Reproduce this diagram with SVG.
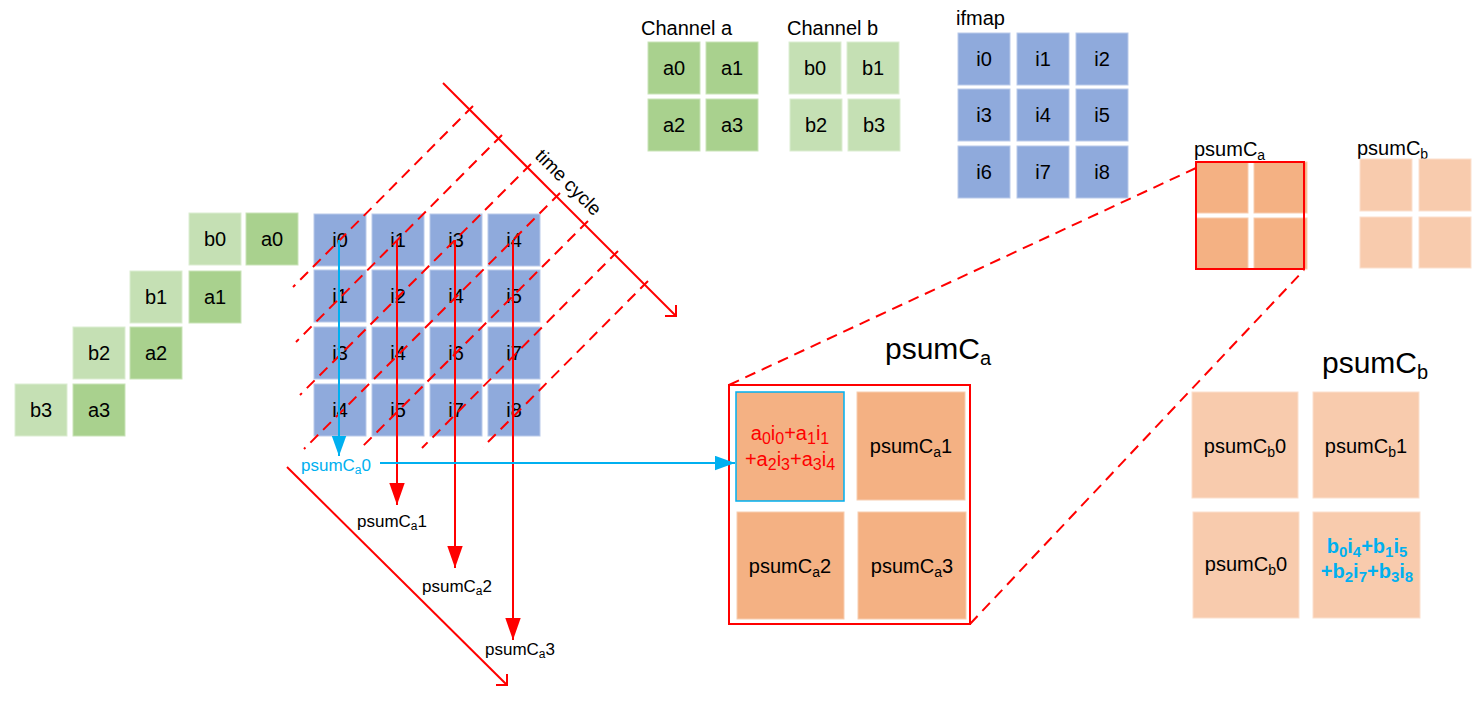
<svg xmlns="http://www.w3.org/2000/svg" width="1481" height="704" viewBox="0 0 1481 704">
<style>
text{font-family:"Liberation Sans",Arial,sans-serif;fill:#000}
.c{text-anchor:middle;font-size:20px}
.ca{fill:#A9D18E;stroke:#C9E3B8;stroke-width:1}
.cb{fill:#C5E0B4;stroke:#DCEDD2;stroke-width:1}
.ci{fill:#8FAADC;stroke:#B9CAEA;stroke-width:1}
.pa{fill:#F4B183;stroke:#F8CDB0;stroke-width:1}
.pb{fill:#F8CBAD;stroke:#FBE0CE;stroke-width:1}
.red{stroke:#FF0000;stroke-width:2;fill:none}
.dash{stroke:#FF0000;stroke-width:2;fill:none;stroke-dasharray:11 7}
.blue{stroke:#00B0F0;stroke-width:2;fill:none}
.lbl{font-size:17px}
</style>
<defs>
<marker id="ra" markerUnits="userSpaceOnUse" markerWidth="22" markerHeight="16" refX="20" refY="7" orient="auto" viewBox="0 0 20 14"><path d="M0,0 L20,7 L0,14 Z" fill="#FF0000"/></marker>
<marker id="ba" markerUnits="userSpaceOnUse" markerWidth="20" markerHeight="15" refX="18" refY="6.5" orient="auto" viewBox="0 0 18 13"><path d="M0,0 L18,6.5 L0,13 Z" fill="#00B0F0"/></marker>
</defs>

<g id="left-weights">
<rect class="cb" x="189" y="213" width="52" height="52"/><text class="c" x="215" y="246">b0</text>
<rect class="ca" x="246" y="213" width="52" height="52"/><text class="c" x="272" y="246">a0</text>
<rect class="cb" x="130" y="271" width="52" height="52"/><text class="c" x="156" y="304">b1</text>
<rect class="ca" x="189" y="271" width="52" height="52"/><text class="c" x="215" y="304">a1</text>
<rect class="cb" x="73" y="327" width="52" height="52"/><text class="c" x="99" y="360">b2</text>
<rect class="ca" x="130" y="327" width="52" height="52"/><text class="c" x="156" y="360">a2</text>
<rect class="cb" x="15" y="384" width="52" height="52"/><text class="c" x="41" y="417">b3</text>
<rect class="ca" x="73" y="384" width="52" height="52"/><text class="c" x="99" y="417">a3</text>
</g>

<g id="input-grid">
<rect class="ci" x="314" y="214" width="52" height="52"/><text class="c" x="340" y="247">i0</text>
<rect class="ci" x="372" y="214" width="52" height="52"/><text class="c" x="398" y="247">i1</text>
<rect class="ci" x="430" y="214" width="52" height="52"/><text class="c" x="456" y="247">i3</text>
<rect class="ci" x="488" y="214" width="52" height="52"/><text class="c" x="514" y="247">i4</text>
<rect class="ci" x="314" y="270" width="52" height="52"/><text class="c" x="340" y="303">i1</text>
<rect class="ci" x="372" y="270" width="52" height="52"/><text class="c" x="398" y="303">i2</text>
<rect class="ci" x="430" y="270" width="52" height="52"/><text class="c" x="456" y="303">i4</text>
<rect class="ci" x="488" y="270" width="52" height="52"/><text class="c" x="514" y="303">i5</text>
<rect class="ci" x="314" y="327" width="52" height="52"/><text class="c" x="340" y="360">i3</text>
<rect class="ci" x="372" y="327" width="52" height="52"/><text class="c" x="398" y="360">i4</text>
<rect class="ci" x="430" y="327" width="52" height="52"/><text class="c" x="456" y="360">i6</text>
<rect class="ci" x="488" y="327" width="52" height="52"/><text class="c" x="514" y="360">i7</text>
<rect class="ci" x="314" y="384" width="52" height="52"/><text class="c" x="340" y="417">i4</text>
<rect class="ci" x="372" y="384" width="52" height="52"/><text class="c" x="398" y="417">i5</text>
<rect class="ci" x="430" y="384" width="52" height="52"/><text class="c" x="456" y="417">i7</text>
<rect class="ci" x="488" y="384" width="52" height="52"/><text class="c" x="514" y="417">i8</text>
</g>

<g id="channel-a">
<text x="641" y="35" font-size="20">Channel a</text>
<rect class="ca" x="648" y="42" width="52" height="52"/><text class="c" x="674" y="75">a0</text>
<rect class="ca" x="706" y="42" width="52" height="52"/><text class="c" x="732" y="75">a1</text>
<rect class="ca" x="648" y="99" width="52" height="52"/><text class="c" x="674" y="132">a2</text>
<rect class="ca" x="706" y="99" width="52" height="52"/><text class="c" x="732" y="132">a3</text>
</g>

<g id="channel-b">
<text x="787" y="35" font-size="20">Channel b</text>
<rect class="cb" x="789" y="42" width="52" height="52"/><text class="c" x="815" y="75">b0</text>
<rect class="cb" x="847" y="42" width="52" height="52"/><text class="c" x="873" y="75">b1</text>
<rect class="cb" x="790" y="99" width="52" height="52"/><text class="c" x="816" y="132">b2</text>
<rect class="cb" x="848" y="99" width="52" height="52"/><text class="c" x="874" y="132">b3</text>
</g>

<g id="ifmap">
<text x="956" y="25" font-size="20">ifmap</text>
<rect class="ci" x="958" y="33" width="52" height="52"/><text class="c" x="984" y="66">i0</text>
<rect class="ci" x="1017" y="33" width="52" height="52"/><text class="c" x="1043" y="66">i1</text>
<rect class="ci" x="1076" y="33" width="52" height="52"/><text class="c" x="1102" y="66">i2</text>
<rect class="ci" x="958" y="89" width="52" height="52"/><text class="c" x="984" y="122">i3</text>
<rect class="ci" x="1017" y="89" width="52" height="52"/><text class="c" x="1043" y="122">i4</text>
<rect class="ci" x="1076" y="89" width="52" height="52"/><text class="c" x="1102" y="122">i5</text>
<rect class="ci" x="958" y="146" width="52" height="52"/><text class="c" x="984" y="179">i6</text>
<rect class="ci" x="1017" y="146" width="52" height="52"/><text class="c" x="1043" y="179">i7</text>
<rect class="ci" x="1076" y="146" width="52" height="52"/><text class="c" x="1102" y="179">i8</text>
</g>

<g id="psumCa-small">
<text x="1194" y="156" font-size="20">psumC<tspan font-size="14" dy="4">a</tspan></text>
<rect class="pa" x="1196" y="162" width="52" height="51"/>
<rect class="pa" x="1254" y="162" width="53" height="51"/>
<rect class="pa" x="1196" y="218" width="52" height="51"/>
<rect class="pa" x="1254" y="218" width="53" height="51"/>
<rect class="red" x="1196" y="162" width="108" height="107"/>
</g>

<g id="psumCb-small">
<text x="1357" y="155" font-size="20">psumC<tspan font-size="14" dy="4">b</tspan></text>
<rect class="pb" x="1360" y="159" width="52" height="52"/>
<rect class="pb" x="1419" y="159" width="52" height="52"/>
<rect class="pb" x="1360" y="217" width="52" height="51"/>
<rect class="pb" x="1419" y="217" width="52" height="51"/>
</g>

<g id="psumCa-big">
<text x="885" y="359" font-size="30">psumC<tspan font-size="20" dy="6">a</tspan></text>
<rect class="red" x="729" y="385" width="241" height="239"/>
<rect class="pa" x="736" y="392" width="108" height="109" style="stroke:#00B0F0;stroke-width:1.5"/>
<rect class="pa" x="857" y="392" width="108" height="108"/>
<rect class="pa" x="737" y="512" width="107" height="107"/>
<rect class="pa" x="858" y="512" width="108" height="107"/>
<text class="c" x="790" y="440" style="fill:#FF0000">a<tspan font-size="16" dy="4">0</tspan><tspan dy="-4">i</tspan><tspan font-size="16" dy="4">0</tspan><tspan dy="-4">+a</tspan><tspan font-size="16" dy="4">1</tspan><tspan dy="-4">i</tspan><tspan font-size="16" dy="4">1</tspan></text>
<text class="c" x="790" y="466" style="fill:#FF0000">+a<tspan font-size="16" dy="4">2</tspan><tspan dy="-4">i</tspan><tspan font-size="16" dy="4">3</tspan><tspan dy="-4">+a</tspan><tspan font-size="16" dy="4">3</tspan><tspan dy="-4">i</tspan><tspan font-size="16" dy="4">4</tspan></text>
<text class="c" x="911" y="453">psumC<tspan font-size="14" dy="4">a</tspan><tspan dy="-4">1</tspan></text>
<text class="c" x="790" y="573">psumC<tspan font-size="14" dy="4">a</tspan><tspan dy="-4">2</tspan></text>
<text class="c" x="912" y="573">psumC<tspan font-size="14" dy="4">a</tspan><tspan dy="-4">3</tspan></text>
</g>

<g id="psumCb-big">
<text x="1322" y="373" font-size="30">psumC<tspan font-size="20" dy="6">b</tspan></text>
<rect class="pb" x="1192" y="392" width="106" height="106"/>
<rect class="pb" x="1313" y="392" width="106" height="106"/>
<rect class="pb" x="1193" y="512" width="106" height="106"/>
<rect class="pb" x="1313" y="512" width="107" height="106"/>
<text class="c" x="1245" y="453">psumC<tspan font-size="14" dy="4">b</tspan><tspan dy="-4">0</tspan></text>
<text class="c" x="1366" y="453">psumC<tspan font-size="14" dy="4">b</tspan><tspan dy="-4">1</tspan></text>
<text class="c" x="1246" y="571">psumC<tspan font-size="14" dy="4">b</tspan><tspan dy="-4">0</tspan></text>
<text class="c" x="1367" y="553" font-weight="bold" style="fill:#00B0F0">b<tspan font-size="15" dy="4">0</tspan><tspan dy="-4">i</tspan><tspan font-size="15" dy="4">4</tspan><tspan dy="-4">+b</tspan><tspan font-size="15" dy="4">1</tspan><tspan dy="-4">i</tspan><tspan font-size="15" dy="4">5</tspan></text>
<text class="c" x="1367" y="578" font-weight="bold" style="fill:#00B0F0">+b<tspan font-size="15" dy="4">2</tspan><tspan dy="-4">i</tspan><tspan font-size="15" dy="4">7</tspan><tspan dy="-4">+b</tspan><tspan font-size="15" dy="4">3</tspan><tspan dy="-4">i</tspan><tspan font-size="15" dy="4">8</tspan></text>
</g>

<g id="connectors">
<line class="dash" x1="473" y1="106" x2="293" y2="287"/>
<line class="dash" x1="502" y1="135" x2="296" y2="342"/>
<line class="dash" x1="531" y1="164" x2="300" y2="395"/>
<line class="dash" x1="560" y1="193" x2="304" y2="449"/>
<line class="dash" x1="588" y1="221" x2="361" y2="448"/>
<line class="dash" x1="618" y1="251" x2="422" y2="448"/>
<line class="dash" x1="648" y1="281" x2="483" y2="447"/>
<line class="red" x1="443" y1="83" x2="676" y2="316"/>
<path class="red" d="M665,316 L676,316 L676,305"/>
<line class="red" x1="287" y1="467" x2="507" y2="685"/>
<path class="red" d="M496,685 L507,685 L507,674"/>
<line class="red" x1="397" y1="240" x2="397" y2="505" marker-end="url(#ra)"/>
<line class="red" x1="455" y1="240" x2="455" y2="568" marker-end="url(#ra)"/>
<line class="red" x1="513" y1="240" x2="513" y2="640" marker-end="url(#ra)"/>
<line class="blue" x1="339" y1="240" x2="339" y2="456" marker-end="url(#ba)"/>
<line class="blue" x1="380" y1="463" x2="735" y2="463" marker-end="url(#ba)"/>
<line class="dash" x1="729" y1="385" x2="1196" y2="168"/>
<line class="dash" x1="970" y1="624" x2="1304" y2="270"/>
</g>

<g id="labels">
<text x="534" y="157" font-size="19" transform="rotate(45 534 157)">time cycle</text>
<text class="lbl" x="301" y="471" style="fill:#00B0F0">psumC<tspan font-size="12" dy="3">a</tspan><tspan dy="-3">0</tspan></text>
<text class="lbl" x="357" y="527">psumC<tspan font-size="12" dy="3">a</tspan><tspan dy="-3">1</tspan></text>
<text class="lbl" x="422" y="592">psumC<tspan font-size="12" dy="3">a</tspan><tspan dy="-3">2</tspan></text>
<text class="lbl" x="485" y="655">psumC<tspan font-size="12" dy="3">a</tspan><tspan dy="-3">3</tspan></text>
</g>
</svg>
